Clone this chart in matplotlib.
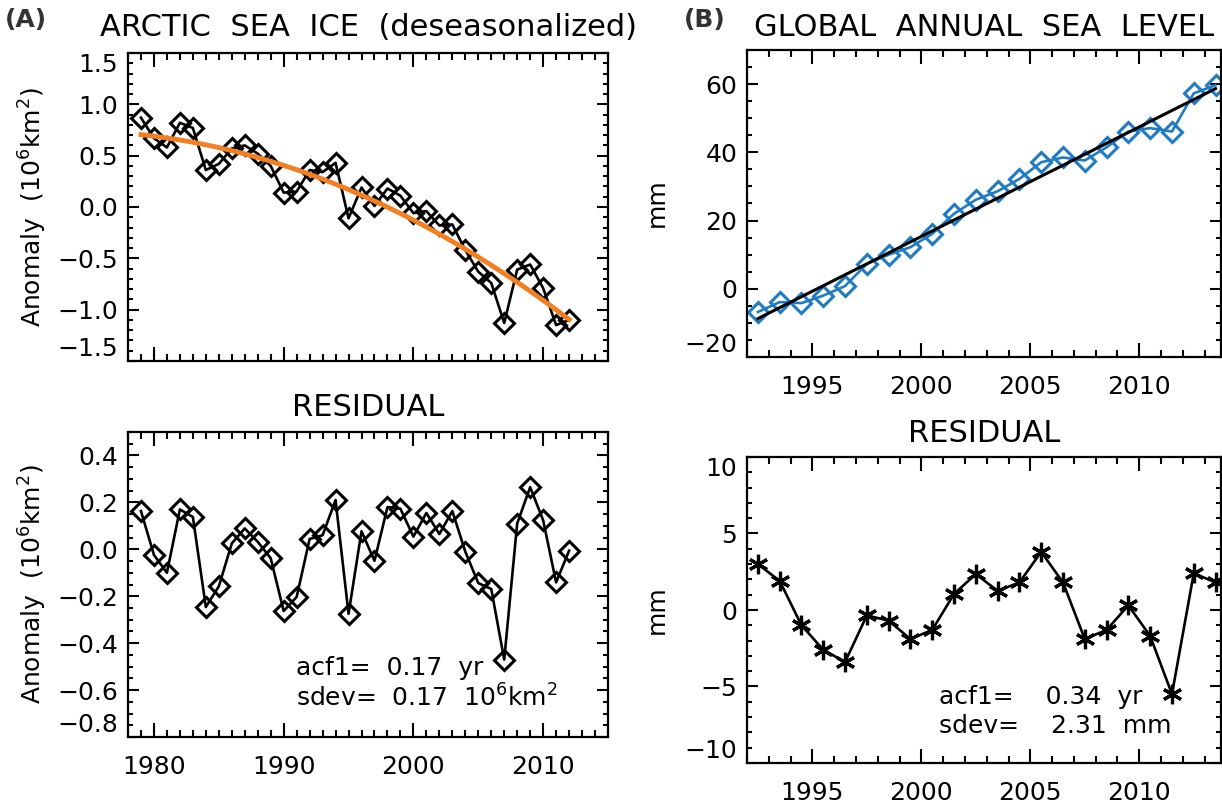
import numpy as np
import matplotlib.pyplot as plt
from matplotlib.ticker import MultipleLocator

# Arctic sea ice anomaly (10^6 km^2), deseasonalized annual means
ice_years = np.arange(1979, 2013)
ice_anom = [0.87, 0.67, 0.58, 0.82, 0.77, 0.36, 0.42, 0.57, 0.60, 0.52,
            0.40, 0.14, 0.15, 0.36, 0.34, 0.43, -0.11, 0.19, 0.01, 0.18,
            0.11, -0.06, -0.04, -0.18, -0.17, -0.42, -0.63, -0.74, -1.13, -0.61,
            -0.56, -0.79, -1.15, -1.10]
ice_resid = [0.163, -0.024, -0.10, 0.17, 0.138, -0.246, -0.158, 0.025, 0.089, 0.032,
             -0.038, -0.263, -0.203, 0.044, 0.06, 0.21, -0.275, 0.077, -0.049, 0.18,
             0.173, 0.054, 0.155, 0.065, 0.163, -0.01, -0.144, -0.169, -0.47, 0.11,
             0.265, 0.124, -0.141, -0.006]

# global annual sea level (mm), mid-year values
sl_years = np.arange(1992.5, 2014.0, 1.0)
sl_mm = [-6.8, -3.9, -4.2, -2.0, 0.8, 7.3, 10.0, 12.2, 16.1, 22.0, 26.1,
         28.6, 32.2, 37.1, 38.5, 37.6, 41.5, 46.1, 47.1, 46.1, 57.3, 59.7]
sl_resid = [3.0, 1.9, -1.0, -2.6, -3.4, -0.35, -0.7, -1.9, -1.3, 1.05, 2.35,
            1.25, 1.8, 3.8, 1.8, -1.9, -1.3, 0.3, -1.7, -5.5, 2.4, 1.8]

W, H = 1222, 805
fig = plt.figure(figsize=(W / 100, H / 100), dpi=100)

BLUE = "#1f7bc4"
ORANGE = "#f27f22"
TS = 18


def make_axes(l, t, r, b):
    ax = fig.add_axes([l / W, 1 - b / H, (r - l) / W, (b - t) / H])
    for s in ax.spines.values():
        s.set_linewidth(1.6)
    ax.tick_params(which="both", direction="in", top=True, right=True,
                   width=1.5, labelsize=TS)
    ax.tick_params(axis="x", which="major", length=10, pad=13)
    ax.tick_params(axis="x", which="minor", length=5)
    ax.tick_params(axis="y", which="major", length=8, pad=7)
    ax.tick_params(axis="y", which="minor", length=3.5)
    return ax


def shift_end_labels(ax, top=False, bottom=False):
    ticks = ax.yaxis.get_major_ticks()
    if top:
        ticks[-1].label1.set_va("top")
    if bottom:
        ticks[0].label1.set_va("bottom")


diamond = dict(marker="D", markersize=10, markerfacecolor="none", markeredgewidth=2.2)

# (A) top
ax1 = make_axes(128, 53, 608, 361)
ax1.plot(ice_years, ice_anom, color="black", lw=1.9, markeredgecolor="black", **diamond)
c2 = np.polyfit(ice_years, ice_anom, 2)
xf = np.linspace(ice_years[0], ice_years[-1], 200)
ax1.plot(xf, np.polyval(c2, xf), color=ORANGE, lw=3.5)
ax1.set_xlim(1978, 2015)
ax1.set_ylim(-1.5, 1.5)
ax1.set_yticks([-1.5, -1.0, -0.5, 0.0, 0.5, 1.0, 1.5])
ax1.set_yticklabels(["\u22121.5", "\u22121.0", "\u22120.5", "0.0", "0.5", "1.0", "1.5"])
ax1.yaxis.set_minor_locator(MultipleLocator(0.1))
ax1.xaxis.set_major_locator(MultipleLocator(10))
ax1.xaxis.set_minor_locator(MultipleLocator(1))
ax1.set_xticklabels([])
shift_end_labels(ax1, top=True, bottom=True)

# (A) residual
ax2 = make_axes(128, 432, 608, 737)
ax2.plot(ice_years, ice_resid, color="black", lw=1.9, markeredgecolor="black", **diamond)
ax2.set_xlim(1978, 2015)
ax2.set_ylim(-0.8, 0.5)
ax2.set_yticks([-0.8, -0.6, -0.4, -0.2, 0.0, 0.2, 0.4])
ax2.set_yticklabels(["\u22120.8", "\u22120.6", "\u22120.4", "\u22120.2", "0.0", "0.2", "0.4"])
ax2.yaxis.set_minor_locator(MultipleLocator(0.05))
ax2.set_xticks([1980, 1990, 2000, 2010])
ax2.xaxis.set_minor_locator(MultipleLocator(1))
shift_end_labels(ax2, bottom=True)

# (B) top
ax3 = make_axes(747, 50, 1221, 357)
ax3.plot(sl_years, sl_mm, color=BLUE, lw=1.9, markeredgecolor=BLUE, **diamond)
c1 = np.polyfit(sl_years, sl_mm, 1)
ax3.plot(sl_years[[0, -1]], np.polyval(c1, sl_years[[0, -1]]), color="black", lw=2.2)
ax3.set_xlim(1992, 2013.75)
ax3.set_ylim(-20, 70)
ax3.set_yticks([-20, 0, 20, 40, 60])
ax3.set_yticklabels(["\u221220", "0", "20", "40", "60"])
ax3.yaxis.set_minor_locator(MultipleLocator(5))
ax3.set_xticks([1995, 2000, 2005, 2010])
ax3.xaxis.set_minor_locator(MultipleLocator(1))
shift_end_labels(ax3, bottom=True)

# (B) residual
ax4 = make_axes(747, 457, 1221, 763)
ax4.plot(sl_years, sl_resid, color="black", lw=1.9, marker=(6, 2, 0),
         markersize=14, markeredgewidth=2.3, markeredgecolor="black")
ax4.set_xlim(1992, 2013.75)
ax4.set_ylim(-10, 10)
ax4.set_yticks([-10, -5, 0, 5, 10])
ax4.set_yticklabels(["\u221210", "\u22125", "0", "5", "10"])
ax4.yaxis.set_minor_locator(MultipleLocator(1))
ax4.set_xticks([1995, 2000, 2005, 2010])
ax4.xaxis.set_minor_locator(MultipleLocator(1))
shift_end_labels(ax4, top=True, bottom=True)


# titles and labels
def ftext(x, y, s, **kw):
    fig.text(x / W, 1 - y / H, s, **kw)


ftext(26, 20, "(A)", fontsize=18, fontweight="bold", color="#333333", ha="center", va="center")
ftext(705, 20, "(B)", fontsize=18, fontweight="bold", color="#333333", ha="center", va="center")
ftext(368, 27, "ARCTIC  SEA  ICE  (deseasonalized)", fontsize=22, ha="center", va="center")
ftext(984, 27, "GLOBAL  ANNUAL  SEA  LEVEL", fontsize=22, ha="center", va="center")
ftext(368, 407, "RESIDUAL", fontsize=22, ha="center", va="center")
ftext(984, 433, "RESIDUAL", fontsize=22, ha="center", va="center")

ftext(33, 207, "Anomaly  (10$^6$km$^2$)", fontsize=TS, rotation=90, ha="center", va="center")
ftext(33, 584, "Anomaly  (10$^6$km$^2$)", fontsize=TS, rotation=90, ha="center", va="center")
ftext(657, 203, "mm", fontsize=TS, rotation=90, ha="center", va="center")
ftext(657, 610, "mm", fontsize=TS, rotation=90, ha="center", va="center")

ftext(296, 668, "acf1=  0.17  yr", fontsize=TS, ha="left", va="center")
ftext(296, 698, "sdev=  0.17  10$^6$km$^2$", fontsize=TS, ha="left", va="center")
ftext(939, 697, "acf1=    0.34  yr", fontsize=TS, ha="left", va="center")
ftext(939, 726, "sdev=    2.31  mm", fontsize=TS, ha="left", va="center")

fig.savefig("out.png", dpi=100)
